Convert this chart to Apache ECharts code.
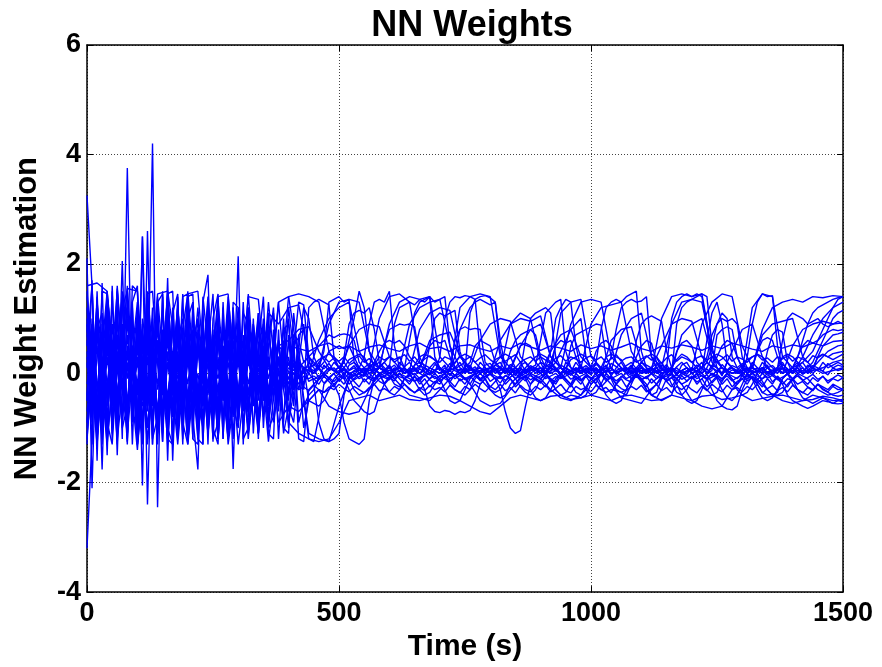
<!DOCTYPE html>
<html>
<head>
<meta charset="utf-8">
<script src="https://cdn.jsdelivr.net/npm/echarts@6/dist/echarts.min.js"></script>
<style>html,body{margin:0;padding:0;background:#fff;}#chart{width:882px;height:667px;}</style>
</head>
<body>
<div id="chart"></div>
<script>
// Time samples (s), 10 s grid, one row per 100 s
var timeS = [
  0,10,20,30,40,50,60,70,80,90,
  100,110,120,130,140,150,160,170,180,190,
  200,210,220,230,240,250,260,270,280,290,
  300,310,320,330,340,350,360,370,380,390,
  400,410,420,430,440,450,460,470,480,490,
  500,510,520,530,540,550,560,570,580,590,
  600,610,620,630,640,650,660,670,680,690,
  700,710,720,730,740,750,760,770,780,790,
  800,810,820,830,840,850,860,870,880,890,
  900,910,920,930,940,950,960,970,980,990,
  1000,1010,1020,1030,1040,1050,1060,1070,1080,1090,
  1100,1110,1120,1130,1140,1150,1160,1170,1180,1190,
  1200,1210,1220,1230,1240,1250,1260,1270,1280,1290,
  1300,1310,1320,1330,1340,1350,1360,1370,1380,1390,
  1400,1410,1420,1430,1440,1450,1460,1470,1480,1490,
  1500];
// Time samples (s), 20 s grid, one row per 200 s
var timeS2 = [
  0,20,40,60,80,100,120,140,160,180,
  200,220,240,260,280,300,320,340,360,380,
  400,420,440,460,480,500,520,540,560,580,
  600,620,640,660,680,700,720,740,760,780,
  800,820,840,860,880,900,920,940,960,980,
  1000,1020,1040,1060,1080,1100,1120,1140,1160,1180,
  1200,1220,1240,1260,1280,1300,1320,1340,1360,1380,
  1400,1420,1440,1460,1480,1500];

var xTicks = [0, 500, 1000, 1500];
var yTicks = [-4, -2, 0, 2, 4, 6];

// Large early oscillators / late excursion weights (10 s grid)
var e1 = [3.25,1.6,-0.9,1.5,1.45,-1.2,1.55,0.3,-1.3,1.6,
  1.5,-1.1,1.45,1.5,0.2,-1.25,1.45,1.5,-0.8,1.4,
  1.45,-1.2,-1.3,1.4,0.5,1.45,-1.1,1.3,-0.9,1.2,
  -0.8,1.1,0.9,-0.6,1.0,-0.5,0.7,1.1,-0.4,0.3,
  1.0,-0.3,0.2,0.9,0.1,0.15,0.1,0.4,1.3,1.35,
  1.4,1.3,1.35,0.2,0.1,0.05,0.1,0.15,0.1,0.05,
  0.1,0.9,1.2,1.25,1.3,1.25,1.35,1.3,1.4,0.3,
  0.1,0.0,0.05,0.1,0.05,0.0,0.1,0.05,0.0,0.05,
  0.1,0.15,0.1,0.05,0.0,0.1,0.05,0.0,0.1,0.15,
  0.6,1.1,1.2,1.3,1.35,0.4,0.1,0.05,0.0,0.1,
  0.05,0.1,0.0,0.05,0.1,0.0,0.05,0.1,0.05,0.0,
  0.1,0.05,0.0,0.1,0.15,0.1,1.0,1.3,1.4,1.45,
  1.4,1.45,1.4,0.9,0.2,0.1,0.0,0.05,0.1,0.05,
  0.0,0.05,0.1,0.05,0.0,0.1,0.05,0.0,0.1,0.05,
  0.1,0.15,0.2,0.3,0.4,0.6,0.8,1.0,1.2,1.35,
  1.4];
var e2 = [-3.2,-1.2,1.4,-1.3,1.5,-0.6,1.3,-1.2,3.75,-0.9,
  1.2,-1.3,1.3,-1.0,1.1,-1.25,0.9,-1.2,1.3,-0.7,
  1.1,-1.2,0.8,-1.3,1.2,-0.9,1.0,-1.1,0.6,-1.2,
  0.9,-1.0,0.5,0.8,-1.1,0.4,-0.9,0.7,-1.2,0.3,
  -1.0,0.5,-1.2,-1.25,-0.3,-0.2,-0.9,-1.2,-1.25,-1.2,
  -1.1,-0.4,-0.1,0.0,-0.1,-0.05,0.0,-0.1,-0.05,0.0,
  -0.05,-0.1,0.0,-0.05,-0.1,-0.15,-0.1,-0.3,-0.6,-0.7,
  -0.72,-0.68,-0.7,-0.75,-0.7,-0.72,-0.68,-0.5,-0.2,-0.1,
  0.0,-0.05,-0.1,-0.05,0.0,-0.1,-0.05,0.0,-0.05,-0.1,
  -0.05,0.0,-0.1,-0.3,-0.4,-0.45,-0.4,-0.42,-0.45,-0.4,
  -0.2,-0.1,0.0,-0.05,-0.1,-0.05,0.0,-0.1,-0.05,0.0,
  -0.1,-0.2,-0.4,-0.45,-0.5,-0.45,-0.4,-0.1,0.0,-0.05,
  -0.1,-0.05,0.0,-0.1,-0.3,-0.5,-0.6,-0.65,-0.67,-0.6,
  -0.3,-0.1,0.0,-0.05,-0.1,-0.05,0.0,-0.1,-0.2,-0.4,
  -0.5,-0.55,-0.6,-0.64,-0.6,-0.55,-0.5,-0.52,-0.55,-0.56,
  -0.55];
var e3 = [0.5,1.6,-1.1,0.9,-1.5,1.6,-0.8,2.05,-1.1,1.3,
  -1.3,2.5,-0.6,4.2,-2.45,1.4,-1.3,1.2,-0.4,1.45,
  -1.2,1.3,-0.5,-1.0,1.1,-1.25,0.8,0.4,-0.9,1.2,
  -0.6,1.3,-0.7,0.9,0.2,-0.8,1.1,-0.5,0.6,-0.3,
  1.2,0.4,1.3,1.25,0.3,-0.2,-0.1,0.0,0.1,0.05,
  0.1,0.2,0.6,1.0,1.5,1.2,0.4,0.1,0.0,0.05,
  0.1,0.0,0.05,0.1,0.6,1.1,1.3,1.35,1.4,1.3,
  1.35,1.4,0.5,0.1,0.0,0.05,1.1,1.35,1.4,1.42,
  1.38,1.3,0.4,0.1,0.0,0.05,0.1,0.0,0.05,0.1,
  0.0,0.05,0.1,0.2,0.4,0.6,0.8,0.9,1.0,0.3,
  0.1,0.0,0.05,0.1,0.3,0.8,1.2,1.3,1.35,1.3,
  1.32,1.4,0.3,0.1,0.0,0.05,0.1,0.0,0.05,0.1,
  0.0,0.05,0.1,0.2,0.5,0.9,1.1,1.0,0.3,0.1,
  0.0,0.3,0.9,1.3,1.45,1.4,1.42,0.5,0.1,0.0,
  0.05,0.1,0.0,0.05,0.1,0.2,0.3,0.4,0.45,0.5,
  0.52];
var e4 = [1.0,-1.3,1.5,-1.0,1.4,0.6,-1.3,1.5,-1.25,1.2,
  -0.9,2.5,-2.4,1.0,-1.0,1.5,-1.6,1.1,1.45,-1.2,
  1.4,1.45,-0.8,1.2,-1.3,1.0,1.45,-1.2,1.1,-1.75,
  1.0,-0.7,1.2,-1.1,0.5,1.4,-0.9,0.8,0.2,-0.9,
  0.7,-0.6,0.5,1.2,1.0,0.3,0.1,0.0,-0.1,0.0,
  0.05,0.1,0.0,-0.05,0.1,0.3,0.9,1.3,1.35,1.3,
  1.5,0.5,0.1,0.0,0.05,0.1,0.0,-0.05,0.1,0.05,
  0.0,0.1,0.05,0.3,0.8,1.0,1.2,1.3,1.35,1.3,
  1.25,1.3,0.6,0.1,0.0,0.05,0.1,0.0,0.05,0.1,
  0.05,0.0,0.1,0.05,0.0,0.1,0.05,0.0,0.1,0.05,
  0.0,0.2,0.8,1.2,1.3,1.35,1.3,1.4,1.45,1.5,
  0.4,0.1,0.0,0.05,0.1,0.0,0.05,0.1,0.0,0.05,
  0.1,0.0,0.05,0.6,1.1,1.3,0.9,0.2,0.1,0.0,
  0.05,0.1,0.0,0.05,0.1,0.0,0.05,0.1,0.6,1.0,
  1.1,1.05,1.0,0.9,0.95,1.0,0.9,0.85,0.9,0.95,
  0.9];
var e5 = [2.1,-2.1,1.0,-1.76,1.2,-0.5,1.6,0.2,-1.2,1.3,
  1.6,-2.05,2.6,-1.3,1.2,-0.8,1.74,-1.6,0.9,-1.3,
  1.2,-0.8,-1.76,1.3,1.8,-1.0,0.9,-1.2,1.3,-0.5,
  2.14,-1.3,0.9,-0.4,1.1,-1.0,0.5,1.2,-0.6,1.0,
  -0.5,1.1,0.2,-0.3,1.2,1.3,1.35,1.3,1.25,0.3,
  0.1,0.0,0.05,0.1,0.0,-0.05,0.1,0.2,0.1,0.05,
  0.0,0.1,0.05,0.0,0.1,0.05,0.0,0.1,0.05,0.0,
  0.3,1.0,1.3,1.4,1.38,1.42,1.4,1.35,0.4,0.1,
  0.0,0.05,0.1,0.0,0.05,0.1,0.0,0.05,0.1,0.0,
  0.05,0.1,0.4,1.0,1.2,1.35,1.3,0.5,0.1,0.0,
  0.05,0.1,0.0,0.05,0.1,0.0,0.05,0.1,0.0,0.05,
  0.1,0.0,0.05,0.1,0.0,0.05,0.1,0.0,0.05,0.1,
  0.0,0.05,0.1,0.3,0.7,0.9,1.0,0.95,1.0,0.9,
  0.3,0.1,0.0,0.05,0.1,0.0,0.05,0.1,0.0,0.05,
  0.1,0.3,0.6,0.9,1.1,1.2,1.25,1.3,1.35,1.38,
  1.4];
var e6 = [-0.5,1.7,-1.6,1.65,-1.3,1.5,-1.5,1.2,1.5,-1.3,
  1.0,-1.2,1.45,-1.3,1.3,1.45,-1.2,-1.3,1.4,-1.1,
  1.0,1.3,-1.2,-1.3,1.1,-1.0,-1.3,1.2,-1.2,1.3,
  1.2,-1.2,-1.0,1.0,-1.2,0.9,-1.1,-1.2,0.8,-1.0,
  -1.1,0.6,-0.9,-0.5,-1.2,-1.25,-0.8,-0.2,-0.1,-0.2,
  -0.4,-0.9,-1.2,-1.25,-1.3,-1.2,-0.5,-0.1,0.0,-0.05,
  -0.1,-0.05,0.0,-0.1,-0.05,0.0,-0.1,-0.05,0.0,-0.1,
  -0.05,0.0,-0.1,-0.05,0.0,-0.1,-0.05,0.0,-0.1,-0.05,
  0.0,-0.1,-0.3,-0.7,-1.0,-1.1,-1.05,-0.6,-0.2,-0.05,
  0.0,-0.1,-0.05,0.0,-0.1,-0.05,0.0,-0.1,-0.05,0.0,
  -0.1,-0.2,-0.3,-0.35,-0.3,-0.32,-0.35,-0.3,-0.1,0.0,
  -0.05,-0.1,0.0,-0.05,-0.1,0.0,-0.05,-0.1,0.0,-0.05,
  -0.1,0.0,-0.05,-0.1,0.0,-0.05,-0.1,0.0,-0.05,-0.1,
  0.0,-0.05,-0.1,-0.2,-0.35,-0.4,-0.38,-0.4,-0.35,-0.2,
  -0.1,0.0,-0.05,-0.1,-0.2,-0.3,-0.35,-0.4,-0.38,-0.35,
  -0.3];
var e7 = [1.2,-0.5,0.8,1.1,-0.6,0.9,0.3,-0.9,1.2,0.2,
  -0.7,1.0,0.4,-0.6,1.2,-0.3,0.9,-0.8,0.6,1.0,
  -0.5,0.8,-0.9,0.6,0.2,-0.7,1.1,-0.4,0.5,-0.8,
  0.8,0.1,-0.6,0.7,-0.3,0.6,0.9,-0.2,0.5,0.4,
  -0.4,0.7,0.6,0.2,0.3,0.4,0.5,0.6,0.7,0.65,
  0.7,0.72,0.7,0.6,0.2,0.1,0.0,0.05,0.1,0.5,
  0.8,0.85,0.9,0.88,0.9,0.85,0.3,0.1,0.0,0.05,
  0.1,0.0,0.05,0.6,0.8,0.85,0.8,0.82,0.8,0.2,
  0.1,0.0,0.05,0.1,0.4,0.6,0.7,0.75,0.8,0.7,
  0.3,0.1,0.0,0.05,0.1,0.0,0.5,0.7,0.75,0.8,
  0.85,0.9,0.88,0.3,0.1,0.0,0.05,0.1,0.0,0.6,
  0.9,1.0,1.05,1.0,0.95,0.4,0.1,0.0,0.05,0.1,
  0.0,0.05,0.1,0.0,0.05,0.7,0.8,0.85,0.8,0.3,
  0.1,0.0,0.05,0.1,0.0,0.4,0.7,0.8,0.75,0.2,
  0.0,0.05,0.1,0.0,0.05,0.3,0.5,0.6,0.7,0.72,
  0.75];
var e8 = [-1.3,1.0,-0.2,-1.2,0.8,-1.0,1.1,-0.3,-1.1,0.9,
  -0.6,-1.2,1.0,-0.4,0.6,-1.1,1.2,-0.2,-1.0,0.8,
  -1.1,0.6,1.0,-0.9,-0.3,0.8,-1.2,0.5,-0.7,0.9,
  -0.9,0.2,-0.7,0.6,-0.8,0.3,0.5,-0.9,-0.3,0.6,
  -0.7,-0.2,0.5,-0.6,-0.4,-0.3,-0.1,0.0,0.1,0.05,
  0.0,0.3,0.9,1.1,1.15,1.1,1.2,0.8,0.2,0.1,
  0.0,0.05,0.1,0.0,0.05,0.1,0.0,0.05,0.5,1.0,
  1.1,1.05,1.1,1.15,0.4,0.1,0.0,0.05,0.1,0.0,
  0.05,0.1,0.0,0.05,0.1,0.0,0.05,0.6,1.0,1.1,
  1.15,1.2,1.1,0.3,0.1,0.0,0.05,0.1,0.0,0.05,
  0.1,0.0,0.05,0.1,0.0,0.05,0.1,0.0,0.05,0.1,
  0.0,0.05,0.1,0.0,0.05,0.1,0.0,0.9,1.2,1.3,
  1.35,1.4,1.45,1.4,0.5,0.1,0.0,0.05,0.1,0.0,
  0.05,0.1,0.0,0.05,0.1,0.0,0.05,0.1,0.0,0.05,
  0.1,0.0,0.05,0.1,0.2,0.4,0.6,0.8,1.0,1.1,
  1.15];

// Medium weights (10 s grid)
var m1 = [0.3,-0.8,1.1,-0.6,0.9,-1.0,0.7,-0.4,1.0,-0.8,
  0.6,-1.0,0.8,-0.5,1.1,-0.9,0.4,-0.7,1.0,-0.6,
  0.7,-0.9,0.5,-0.4,1.0,-0.8,0.6,-0.5,0.9,-0.7,
  0.4,-0.6,0.7,-0.3,0.5,-0.5,0.3,-0.4,0.6,-0.2,
  0.3,-0.3,0.2,-0.2,0.1,0.05,0.1,0.2,0.4,0.45,
  0.5,0.45,0.5,0.3,0.1,0.0,0.1,0.2,0.4,0.55,
  0.6,0.55,0.6,0.5,0.3,0.2,0.1,0.3,0.5,0.6,
  0.55,0.6,0.3,0.1,0.0,0.1,0.2,0.5,0.6,0.55,
  0.5,0.2,0.1,0.0,0.1,0.3,0.5,0.55,0.5,0.2,
  0.1,0.0,0.2,0.5,0.6,0.55,0.6,0.3,0.1,0.0,
  0.1,0.4,0.55,0.6,0.5,0.2,0.1,0.0,0.1,0.3,
  0.5,0.6,0.55,0.2,0.1,0.0,0.1,0.4,0.55,0.6,
  0.5,0.2,0.1,0.0,0.1,0.3,0.5,0.6,0.55,0.3,
  0.1,0.0,0.1,0.4,0.6,0.65,0.6,0.3,0.1,0.0,
  0.1,0.3,0.5,0.6,0.55,0.6,0.7,0.75,0.8,0.78,
  0.8];
var m2 = [-0.4,0.9,-1.0,0.7,-0.9,0.6,-0.6,0.9,-0.7,0.5,
  -0.8,0.9,-0.6,0.7,-1.0,0.5,-0.8,0.9,-0.5,0.6,
  -0.9,0.7,-0.6,0.9,-0.8,0.4,-0.7,0.8,-0.4,0.6,
  -0.6,0.5,-0.4,0.6,-0.5,0.4,-0.6,0.3,-0.3,0.4,
  -0.4,0.2,-0.3,0.1,-0.5,-0.55,-0.6,-0.5,-0.3,-0.1,
  0.0,-0.1,-0.3,-0.5,-0.6,-0.7,-0.75,-0.7,-0.4,-0.2,
  -0.1,0.0,-0.1,-0.2,-0.3,-0.35,-0.3,-0.2,-0.1,0.0,
  -0.1,-0.3,-0.5,-0.55,-0.5,-0.3,-0.1,0.0,-0.1,-0.2,
  -0.3,-0.4,-0.45,-0.4,-0.2,-0.1,0.0,-0.1,-0.3,-0.45,
  -0.5,-0.45,-0.3,-0.1,0.0,-0.1,-0.2,-0.35,-0.4,-0.3,
  -0.1,0.0,-0.2,-0.4,-0.5,-0.55,-0.5,-0.3,-0.1,0.0,
  -0.1,-0.3,-0.4,-0.45,-0.3,-0.1,0.0,-0.2,-0.4,-0.5,
  -0.55,-0.5,-0.3,-0.1,0.0,-0.1,-0.3,-0.45,-0.5,-0.4,
  -0.2,0.0,-0.1,-0.3,-0.45,-0.5,-0.45,-0.3,-0.1,0.0,
  -0.1,-0.3,-0.45,-0.5,-0.55,-0.5,-0.45,-0.5,-0.55,-0.5,
  -0.52];
var m3 = [0.9,-0.9,1.3,-0.7,1.0,-1.1,0.6,1.4,-0.8,0.9,
  -1.1,0.7,-0.5,1.2,-1.3,0.8,-0.7,1.0,-0.9,0.6,
  -0.8,1.1,-0.6,0.9,-1.0,0.7,-0.9,1.0,-0.3,0.8,
  -0.5,0.7,-0.8,0.9,-0.2,1.0,-0.4,0.6,-0.7,0.8,
  0.9,-0.3,0.7,0.8,0.1,0.0,0.2,0.3,0.35,0.3,
  0.2,0.1,0.25,0.3,0.35,0.3,0.1,0.0,0.1,0.2,
  0.3,0.25,0.3,0.1,0.0,0.15,0.3,0.35,0.3,0.25,
  0.1,0.0,0.1,0.2,0.3,0.35,0.3,0.2,0.1,0.0,
  0.1,0.25,0.3,0.35,0.3,0.1,0.0,0.1,0.2,0.3,
  0.35,0.3,0.2,0.1,0.0,0.1,0.25,0.3,0.35,0.3,
  0.1,0.0,0.1,0.3,0.35,0.3,0.25,0.1,0.0,0.1,
  0.2,0.3,0.35,0.3,0.1,0.0,0.1,0.25,0.35,0.3,
  0.2,0.1,0.0,0.1,0.3,0.35,0.3,0.2,0.1,0.0,
  0.1,0.25,0.3,0.35,0.3,0.1,0.0,0.1,0.3,0.35,
  0.3,0.2,0.1,0.0,0.1,0.3,0.35,0.3,0.25,0.3,
  0.35];
var m4 = [-1.0,0.4,-1.2,0.3,-0.9,-1.3,0.2,-1.0,-0.6,0.5,
  -1.3,-0.4,0.3,-1.2,-0.8,0.4,-1.0,-1.3,0.2,-0.9,
  -1.3,0.3,-1.0,-0.5,0.4,-1.2,-0.9,0.2,-1.3,-0.6,
  -1.0,0.3,-1.1,-0.4,-0.9,0.2,-1.0,-0.8,0.1,-1.1,
  -0.6,-0.9,0.1,-1.0,-0.5,-0.4,-0.3,-0.35,-0.3,-0.2,
  -0.1,0.0,-0.1,-0.3,-0.4,-0.35,-0.3,-0.1,0.0,-0.2,
  -0.35,-0.4,-0.3,-0.1,0.0,-0.15,-0.3,-0.4,-0.35,-0.2,
  -0.1,0.0,-0.2,-0.3,-0.35,-0.4,-0.3,-0.1,0.0,-0.1,
  -0.3,-0.35,-0.3,-0.15,0.0,-0.1,-0.25,-0.35,-0.4,-0.3,
  -0.1,0.0,-0.15,-0.3,-0.4,-0.35,-0.2,0.0,-0.1,-0.3,
  -0.4,-0.35,-0.2,0.0,-0.1,-0.3,-0.35,-0.4,-0.2,0.0,
  -0.15,-0.3,-0.4,-0.35,-0.1,0.0,-0.2,-0.35,-0.4,-0.3,
  -0.1,0.0,-0.2,-0.3,-0.4,-0.35,-0.15,0.0,-0.1,-0.3,
  -0.4,-0.35,-0.2,0.0,-0.15,-0.3,-0.4,-0.35,-0.1,0.0,
  -0.2,-0.3,-0.35,-0.4,-0.3,-0.2,-0.3,-0.35,-0.4,-0.42,
  -0.4];

// Small weights forming the band around zero (10 s grid)
var b1 = [0.6,-0.3,0.5,-0.7,0.8,-0.2,0.6,-0.8,0.4,-0.5,
  0.7,-0.4,0.5,-0.9,0.6,-0.3,0.8,-0.6,0.3,-0.8,
  0.5,-0.3,0.7,-0.6,0.4,-0.7,0.3,-0.5,0.6,-0.4,
  0.3,-0.4,0.5,-0.2,0.4,-0.3,0.2,-0.4,0.3,-0.1,
  0.2,-0.2,0.3,0.0,0.2,0.1,-0.1,0.15,0.05,0.2,
  0.1,-0.05,0.15,0.2,0.05,0.1,-0.1,0.15,0.2,0.05,
  0.15,0.0,0.2,0.1,-0.05,0.15,0.2,0.0,0.1,0.2,
  0.05,0.15,-0.05,0.1,0.2,0.05,0.15,0.0,0.2,0.1,
  0.0,0.15,0.2,0.05,0.1,-0.05,0.15,0.2,0.05,0.1,
  0.2,0.0,0.15,0.1,-0.05,0.2,0.1,0.05,0.15,0.0,
  0.1,0.2,0.05,0.15,-0.05,0.1,0.2,0.05,0.15,0.0,
  0.2,0.1,0.0,0.15,0.2,0.05,0.1,-0.05,0.15,0.2,
  0.05,0.1,0.2,0.0,0.15,0.1,-0.05,0.2,0.1,0.05,
  0.15,0.0,0.2,0.1,0.05,0.15,-0.05,0.1,0.2,0.05,
  0.1,0.2,0.0,0.15,0.1,0.05,0.2,0.1,0.15,0.2,
  0.15];
var b2 = [-0.2,0.5,-0.6,0.3,-0.4,0.6,-0.5,0.2,-0.6,0.4,
  -0.3,0.5,-0.7,0.3,-0.2,0.6,-0.5,0.4,-0.3,0.5,
  -0.6,0.2,-0.4,0.5,-0.3,0.6,-0.4,0.3,-0.5,0.2,
  -0.3,0.4,-0.2,0.3,-0.4,0.2,-0.3,0.2,-0.2,0.1,
  -0.2,0.15,-0.1,0.1,-0.15,-0.1,-0.2,-0.05,-0.15,-0.25,
  -0.1,-0.2,-0.05,-0.15,-0.25,-0.1,-0.2,0.0,-0.15,-0.2,
  -0.05,-0.2,-0.25,-0.1,-0.15,-0.05,-0.2,-0.1,-0.25,-0.15,
  -0.2,-0.05,-0.15,-0.25,-0.1,-0.2,-0.05,-0.15,-0.2,-0.1,
  -0.25,-0.15,-0.05,-0.2,-0.1,-0.25,-0.15,-0.05,-0.2,-0.1,
  -0.15,-0.25,-0.1,-0.2,-0.05,-0.15,-0.25,-0.1,-0.2,-0.05,
  -0.2,-0.1,-0.25,-0.15,-0.05,-0.2,-0.1,-0.25,-0.15,-0.05,
  -0.15,-0.25,-0.1,-0.2,-0.05,-0.15,-0.25,-0.1,-0.2,-0.15,
  -0.05,-0.2,-0.1,-0.25,-0.15,-0.05,-0.2,-0.1,-0.25,-0.15,
  -0.1,-0.2,-0.05,-0.15,-0.25,-0.1,-0.2,-0.05,-0.15,-0.25,
  -0.1,-0.2,-0.15,-0.25,-0.3,-0.2,-0.25,-0.3,-0.2,-0.25,
  -0.3];
var b3 = [0.1,0.8,-0.3,0.6,-0.2,0.4,-0.5,0.7,-0.1,0.5,
  -0.4,0.3,-0.2,0.6,-0.3,0.2,-0.5,0.4,-0.1,0.3,
  -0.2,0.5,-0.3,0.2,-0.4,0.3,-0.1,0.4,-0.2,0.1,
  0.3,-0.2,0.2,-0.1,0.3,-0.2,0.1,0.0,0.2,-0.1,
  0.1,0.0,-0.1,0.1,0.05,0.0,0.08,-0.05,0.05,0.1,
  0.0,0.08,-0.04,0.05,0.1,-0.02,0.06,0.0,0.1,0.03,
  -0.05,0.06,0.1,0.0,0.04,-0.04,0.08,0.02,-0.03,0.06,
  0.1,0.0,0.05,-0.05,0.08,0.02,0.1,-0.02,0.04,0.08,
  0.0,0.06,-0.04,0.1,0.02,0.05,-0.05,0.08,0.0,0.06,
  0.1,-0.02,0.05,0.08,0.0,0.04,-0.04,0.1,0.02,0.06,
  -0.03,0.08,0.0,0.05,0.1,-0.02,0.06,0.02,-0.04,0.08,
  0.04,0.0,0.1,0.02,-0.05,0.06,0.08,0.0,0.05,-0.02,
  0.1,0.04,0.0,0.08,-0.04,0.05,0.1,0.0,0.06,0.02,
  -0.03,0.08,0.04,0.0,0.1,0.02,-0.04,0.06,0.08,0.0,
  0.05,0.1,-0.02,0.06,0.0,0.08,0.04,-0.03,0.1,0.05,
  0.08];
var b4 = [-0.7,0.2,-0.4,-0.8,0.3,-0.5,0.1,-0.7,0.4,-0.3,
  0.2,-0.6,-0.2,0.3,-0.7,0.1,-0.4,0.2,-0.6,-0.1,
  0.3,-0.5,0.0,-0.6,0.2,-0.3,-0.5,0.1,-0.4,0.2,
  -0.3,0.1,-0.4,0.0,-0.2,0.1,-0.3,-0.1,0.0,-0.2,
  -0.1,0.0,-0.2,-0.05,-0.1,-0.05,-0.12,-0.02,-0.08,-0.15,
  -0.05,-0.1,0.0,-0.12,-0.06,-0.02,-0.1,-0.15,-0.04,-0.08,
  -0.12,0.0,-0.06,-0.1,-0.03,-0.14,-0.08,-0.02,-0.1,-0.05,
  -0.15,-0.06,0.0,-0.1,-0.04,-0.12,-0.08,-0.02,-0.14,-0.06,
  -0.02,-0.1,-0.05,-0.13,-0.07,0.0,-0.1,-0.04,-0.12,-0.06,
  -0.1,-0.02,-0.14,-0.06,-0.09,0.0,-0.11,-0.05,-0.13,-0.03,
  -0.08,-0.12,-0.02,-0.1,-0.05,-0.14,-0.07,0.0,-0.1,-0.04,
  -0.12,-0.06,-0.01,-0.1,-0.05,-0.13,-0.08,-0.02,-0.11,-0.06,
  0.0,-0.1,-0.04,-0.12,-0.07,-0.02,-0.11,-0.05,-0.14,-0.08,
  -0.03,-0.1,-0.06,-0.13,0.0,-0.09,-0.04,-0.12,-0.07,-0.02,
  -0.1,-0.05,-0.13,-0.08,-0.02,-0.11,-0.06,-0.14,-0.09,-0.03,
  -0.08];
var b5 = [0.4,-0.6,0.3,0.7,-0.4,0.2,-0.7,0.5,0.1,-0.5,
  0.6,-0.2,-0.6,0.5,0.2,-0.4,0.7,-0.3,0.4,-0.6,
  0.2,0.6,-0.5,0.3,-0.2,0.5,-0.6,0.1,0.4,-0.3,
  0.5,-0.4,0.2,0.4,-0.3,0.1,0.3,-0.2,0.2,0.1,
  -0.1,0.25,0.1,0.2,0.3,0.15,0.25,0.3,0.2,0.28,
  0.22,0.3,0.18,0.26,0.32,0.2,0.27,0.15,0.3,0.24,
  0.3,0.2,0.28,0.34,0.22,0.3,0.18,0.26,0.32,0.24,
  0.2,0.3,0.26,0.18,0.32,0.24,0.3,0.2,0.28,0.34,
  0.25,0.18,0.3,0.22,0.28,0.34,0.2,0.26,0.3,0.22,
  0.3,0.24,0.18,0.28,0.32,0.22,0.3,0.26,0.2,0.28,
  0.32,0.24,0.3,0.2,0.26,0.34,0.22,0.28,0.3,0.2,
  0.26,0.32,0.24,0.3,0.18,0.28,0.34,0.22,0.3,0.26,
  0.2,0.28,0.32,0.24,0.3,0.2,0.26,0.34,0.22,0.3,
  0.26,0.2,0.3,0.34,0.24,0.28,0.2,0.3,0.26,0.32,
  0.22,0.3,0.26,0.2,0.32,0.28,0.34,0.3,0.36,0.38,
  0.4];
var b6 = [-0.9,0.6,-0.2,-0.8,0.5,-0.6,0.3,-0.9,0.2,-0.4,
  0.5,-0.8,-0.3,0.4,-0.7,0.3,-0.9,0.1,-0.5,0.4,
  -0.7,0.2,-0.6,0.4,-0.8,0.1,-0.3,0.5,-0.6,0.0,
  -0.5,0.3,-0.6,-0.1,-0.4,0.2,-0.5,-0.2,-0.3,0.1,
  -0.35,-0.2,-0.3,-0.25,-0.32,-0.22,-0.3,-0.35,-0.25,-0.3,
  -0.2,-0.28,-0.34,-0.24,-0.3,-0.36,-0.26,-0.2,-0.32,-0.28,
  -0.34,-0.24,-0.3,-0.2,-0.28,-0.36,-0.26,-0.32,-0.22,-0.3,
  -0.26,-0.34,-0.22,-0.3,-0.36,-0.24,-0.3,-0.2,-0.28,-0.34,
  -0.24,-0.3,-0.2,-0.32,-0.26,-0.36,-0.22,-0.3,-0.34,-0.24,
  -0.3,-0.22,-0.34,-0.28,-0.2,-0.32,-0.36,-0.24,-0.3,-0.26,
  -0.34,-0.22,-0.3,-0.26,-0.36,-0.2,-0.28,-0.32,-0.24,-0.3,
  -0.22,-0.34,-0.28,-0.2,-0.32,-0.26,-0.36,-0.24,-0.3,-0.22,
  -0.3,-0.36,-0.24,-0.32,-0.2,-0.28,-0.34,-0.22,-0.3,-0.26,
  -0.34,-0.24,-0.3,-0.2,-0.36,-0.28,-0.22,-0.32,-0.26,-0.34,
  -0.22,-0.3,-0.36,-0.26,-0.32,-0.2,-0.28,-0.34,-0.24,-0.3,
  -0.28];
var b7 = [0.2,-0.5,0.9,-0.3,0.6,-0.8,0.4,-0.2,0.7,-0.6,
  0.3,-0.5,0.9,-0.2,0.5,-0.7,0.2,-0.4,0.8,-0.3,
  0.4,-0.6,0.7,-0.2,0.5,-0.4,0.8,-0.3,0.2,-0.5,
  0.6,-0.2,0.4,-0.3,0.2,0.5,-0.1,0.3,-0.2,0.2,
  0.15,0.05,0.2,0.1,0.12,0.0,0.15,0.08,0.18,0.04,
  0.12,0.2,0.06,0.14,0.0,0.1,0.18,0.05,0.12,0.2,
  0.08,0.15,0.02,0.12,0.2,0.06,0.14,0.1,0.0,0.16,
  0.1,0.04,0.18,0.08,0.14,0.2,0.05,0.12,0.0,0.15,
  0.18,0.06,0.12,0.02,0.16,0.1,0.2,0.04,0.14,0.08,
  0.0,0.12,0.18,0.06,0.15,0.1,0.02,0.2,0.08,0.14,
  0.06,0.16,0.1,0.0,0.18,0.12,0.05,0.14,0.2,0.08,
  0.14,0.02,0.1,0.18,0.06,0.16,0.0,0.12,0.2,0.1,
  0.04,0.15,0.08,0.2,0.12,0.0,0.16,0.06,0.14,0.1,
  0.18,0.08,0.12,0.02,0.2,0.1,0.14,0.05,0.16,0.08,
  0.0,0.12,0.2,0.06,0.14,0.1,0.04,0.18,0.1,0.15,
  0.12];
var b8 = [-0.5,0.7,-0.8,0.2,-0.3,0.9,-0.4,0.5,-0.9,0.3,
  -0.2,0.8,-0.5,-0.1,0.6,-0.8,0.2,-0.4,0.7,-0.5,
  0.3,-0.7,0.4,-0.1,0.6,-0.5,0.2,-0.8,0.4,-0.2,
  0.2,-0.5,0.3,-0.3,0.1,-0.4,0.2,-0.1,0.3,-0.3,
  0.05,-0.15,-0.05,-0.2,0.0,-0.12,-0.04,-0.18,-0.08,0.0,
  -0.15,-0.05,-0.2,-0.1,0.0,-0.16,-0.06,-0.12,-0.02,-0.18,
  -0.08,-0.14,0.0,-0.1,-0.2,-0.06,-0.15,-0.02,-0.12,-0.18,
  -0.04,-0.1,-0.16,-0.02,-0.14,-0.08,-0.2,-0.05,-0.12,0.0,
  -0.15,-0.08,-0.18,-0.04,-0.1,-0.2,-0.06,-0.14,-0.02,-0.12,
  -0.18,-0.06,-0.1,-0.16,0.0,-0.12,-0.2,-0.08,-0.14,-0.04,
  -0.1,-0.18,-0.02,-0.14,-0.08,-0.2,-0.05,-0.12,-0.16,0.0,
  -0.12,-0.06,-0.18,-0.1,0.0,-0.15,-0.08,-0.2,-0.04,-0.14,
  -0.06,-0.16,-0.1,-0.02,-0.18,-0.08,-0.14,0.0,-0.12,-0.2,
  -0.04,-0.14,-0.08,-0.18,-0.1,0.0,-0.16,-0.06,-0.2,-0.1,
  -0.14,-0.02,-0.12,-0.2,-0.08,-0.15,-0.05,-0.18,-0.1,-0.14,
  -0.08];

// Further weights (20 s grid)
var x1 = [1.5,-1.2,1.4,-0.9,1.6,-1.3,1.2,-1.0,1.45,-1.2,
  1.3,-1.1,1.4,-1.2,1.2,-0.9,1.45,-1.0,1.1,0.9,
  1.2,1.25,0.3,0.1,0.9,1.3,1.35,1.3,0.4,0.1,
  0.0,0.1,0.05,0.8,1.1,1.2,1.15,0.3,0.1,0.0,
  0.1,0.05,0.9,1.1,1.0,0.2,0.1,0.0,0.05,0.1,
  0.9,1.2,1.25,1.3,0.4,0.1,0.0,0.05,0.1,0.0,
  0.05,0.9,1.3,1.45,1.4,0.5,0.1,0.0,0.05,0.1,
  0.0,0.3,0.7,1.0,1.2,1.3];
var x2 = [-1.2,1.3,-0.8,1.5,-1.1,0.9,-1.3,1.4,-0.7,1.2,
  -1.25,1.0,-1.1,1.3,-0.8,1.2,-1.2,0.9,-1.0,1.3,
  -0.9,0.2,-1.1,-1.2,-1.25,-0.6,-0.1,0.0,0.05,0.1,
  0.9,1.3,1.4,1.35,1.4,0.3,0.1,0.0,0.05,0.1,
  0.0,0.6,0.9,1.0,0.95,1.05,0.3,0.1,0.0,0.05,
  0.1,0.0,0.05,0.7,1.0,1.1,0.3,0.1,0.9,1.3,
  1.35,1.3,0.4,0.1,0.0,0.05,0.1,0.7,0.9,0.95,
  1.0,0.3,0.1,0.0,0.05,0.1];
var x3 = [0.8,-1.3,1.1,-1.2,0.5,-1.4,1.0,-1.1,0.6,-1.3,
  0.9,-1.2,0.7,-1.0,1.1,-1.3,0.4,-1.1,0.8,-0.9,
  -0.6,-0.7,-0.5,-0.3,-0.6,-0.7,-0.75,-0.7,-0.3,-0.1,
  0.0,-0.2,-0.4,-0.45,-0.5,-0.3,-0.1,0.0,-0.2,-0.5,
  -0.6,-0.55,-0.3,-0.1,0.0,-0.1,-0.3,-0.45,-0.5,-0.4,
  -0.1,0.0,-0.2,-0.45,-0.5,-0.55,-0.3,-0.1,0.0,-0.2,
  -0.5,-0.6,-0.65,-0.6,-0.3,-0.1,0.0,-0.2,-0.4,-0.5,
  -0.55,-0.5,-0.4,-0.45,-0.5,-0.48];
var x4 = [-0.9,1.1,-1.2,0.7,-0.5,1.3,-1.0,0.8,-1.2,1.0,
  -0.8,1.2,-1.1,0.6,-1.2,1.0,-0.7,1.1,-0.9,0.5,
  0.6,0.8,0.85,0.4,0.1,0.0,0.5,0.8,0.9,0.85,
  0.3,0.1,0.0,0.1,0.6,0.7,0.75,0.3,0.1,0.6,
  0.9,1.0,0.95,0.3,0.1,0.0,0.4,0.7,0.8,0.3,
  0.1,0.0,0.6,0.8,0.85,0.2,0.1,0.5,0.9,1.0,
  0.95,0.3,0.1,0.0,0.4,0.8,0.9,0.3,0.1,0.0,
  0.5,0.8,0.9,0.95,0.9,0.92];
var x5 = [1.4,-0.6,1.5,-1.0,1.3,-1.2,1.5,-0.8,1.4,-1.1,
  1.5,-0.9,1.3,-1.2,1.4,-0.7,1.2,-1.1,1.3,-0.6,
  1.4,1.45,1.4,1.3,0.4,0.1,0.0,0.05,0.1,1.0,
  1.4,1.45,1.3,0.2,0.1,0.0,0.05,1.2,1.4,1.45,
  1.4,0.3,0.1,0.0,0.05,0.1,0.0,1.1,1.3,1.35,
  0.3,0.1,0.0,0.05,0.1,0.0,0.05,1.0,1.4,1.45,
  1.4,1.45,0.4,0.1,0.0,0.05,1.2,1.45,1.4,0.3,
  0.1,0.0,0.05,0.1,0.2,0.25];
var x6 = [0.7,-1.0,0.9,-0.5,1.2,-0.8,0.6,-1.1,1.0,-0.4,
  0.8,-0.6,1.1,-0.9,0.5,-0.7,0.9,-0.3,0.7,-0.5,
  0.5,0.45,0.4,0.5,0.55,0.45,0.5,0.4,0.48,0.52,
  0.45,0.4,0.5,0.55,0.45,0.48,0.4,0.5,0.52,0.45,
  0.4,0.5,0.45,0.55,0.48,0.42,0.5,0.46,0.4,0.52,
  0.45,0.5,0.42,0.48,0.55,0.45,0.4,0.5,0.46,0.52,
  0.48,0.42,0.5,0.45,0.55,0.5,0.44,0.4,0.5,0.46,
  0.52,0.48,0.55,0.5,0.58,0.6];
var x7 = [-1.1,0.7,-1.3,0.9,-0.6,1.1,-1.2,0.5,-0.9,1.2,
  -1.3,0.6,-0.8,1.0,-1.2,0.4,-1.0,0.8,-1.25,0.3,
  -0.9,-1.1,-1.2,-1.25,-1.2,-0.9,-0.5,-0.45,-0.4,-0.5,
  -0.45,-0.4,-0.48,-0.5,-0.45,-0.4,-0.42,-0.5,-0.6,-0.7,
  -0.75,-0.6,-0.45,-0.4,-0.45,-0.5,-0.42,-0.4,-0.48,-0.45,
  -0.4,-0.45,-0.5,-0.42,-0.4,-0.45,-0.5,-0.48,-0.4,-0.45,
  -0.5,-0.42,-0.4,-0.48,-0.45,-0.4,-0.5,-0.46,-0.42,-0.4,
  -0.45,-0.5,-0.48,-0.42,-0.45,-0.5];
var x8 = [1.6,1.65,1.5,-0.5,1.55,1.5,-1.0,1.45,1.5,0.2,
  1.45,1.5,-0.7,1.4,1.45,-0.9,1.4,1.35,-0.5,1.3,
  1.4,0.2,0.0,0.6,1.0,1.2,1.3,0.4,0.1,0.0,
  0.05,0.1,0.9,1.2,1.3,1.35,0.5,0.1,0.0,0.05,
  0.1,0.0,0.05,0.5,0.8,0.9,0.3,0.1,0.9,1.3,
  1.35,1.3,0.3,0.1,0.0,0.05,0.1,0.0,0.05,0.7,
  0.9,1.0,0.3,0.1,0.0,0.05,0.1,0.8,1.2,1.3,
  1.35,1.3,1.4,1.38,1.42,1.4];

var weights10 = [b1,b2,b3,b4,b5,b6,b7,b8,m1,m2,m3,m4,e1,e2,e3,e4,e5,e6,e7,e8];
var weights20 = [x1,x2,x3,x4,x5,x6,x7,x8];

var FONT = 'Liberation Sans, Arial, sans-serif';
var chart = echarts.init(document.getElementById('chart'), null, {renderer:'canvas'});

function makeSeries(times, w, k) {
  var data = [];
  var n = Math.min(times.length, w.length);
  for (var i = 0; i < n; i++) data.push([times[i], w[i]]);
  return {
    type: 'line', name: 'w' + k, data: data, showSymbol: false,
    lineStyle: {color: '#0000ff', width: 1.4}, itemStyle: {color: '#0000ff'},
    silent: true, z: 2
  };
}
var series = [];
weights20.forEach(function (w, k) { series.push(makeSeries(timeS2, w, 100 + k)); });
weights10.forEach(function (w, k) { series.push(makeSeries(timeS, w, k)); });

var labelStyle = {color: '#000', fontFamily: FONT, fontWeight: 'bold', fontSize: 27,
  formatter: function (v) { return String(v); }};
var split = {show: true, lineStyle: {color: '#444', type: [1, 2], width: 1}};
var tick = {show: true, inside: true, length: 6, lineStyle: {color: '#000'}};
var line = {show: true, onZero: false, lineStyle: {color: '#000', width: 1.5}};

chart.setOption({
  animation: false,
  backgroundColor: '#fff',
  title: {
    text: 'NN Weights', left: 467, top: 3, textAlign: 'center',
    textStyle: {color: '#000', fontFamily: FONT, fontWeight: 'bold', fontSize: 36}
  },
  grid: {left: 87, right: 39, top: 45, bottom: 70, show: false, containLabel: false},
  xAxis: [{
    type: 'value', min: xTicks[0], max: xTicks[xTicks.length - 1], interval: 500,
    axisLine: line, axisTick: tick,
    axisLabel: Object.assign({margin: 8}, labelStyle),
    splitLine: split,
    name: 'Time (s)', nameLocation: 'middle', nameGap: 34,
    nameTextStyle: {color: '#000', fontFamily: FONT, fontWeight: 'bold', fontSize: 30}
  }, {
    type: 'value', position: 'top', min: xTicks[0], max: xTicks[xTicks.length - 1], interval: 500,
    axisLine: line, axisTick: tick, axisLabel: {show: false}, splitLine: {show: false}
  }],
  yAxis: [{
    type: 'value', min: yTicks[0], max: yTicks[yTicks.length - 1], interval: 2,
    axisLine: line, axisTick: tick,
    axisLabel: Object.assign({margin: 6}, labelStyle),
    splitLine: split,
    name: 'NN Weight Estimation', nameLocation: 'middle', nameGap: 44, nameRotate: 90,
    nameTextStyle: {color: '#000', fontFamily: FONT, fontWeight: 'bold', fontSize: 31}
  }, {
    type: 'value', position: 'right', min: yTicks[0], max: yTicks[yTicks.length - 1], interval: 2,
    axisLine: line, axisTick: tick, axisLabel: {show: false}, splitLine: {show: false}
  }],
  series: series
});
</script>
</body>
</html>
